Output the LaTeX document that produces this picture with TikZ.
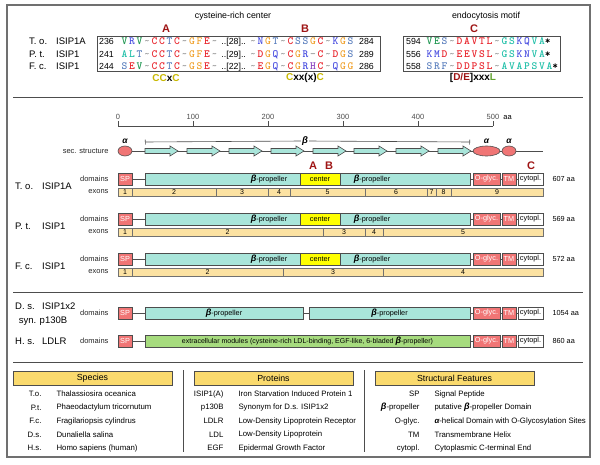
\documentclass[tikz,border=0pt]{standalone}
\usepackage{fontspec}
\setmainfont{Liberation Sans}
\usepackage{tikz}
\usetikzlibrary{arrows.meta,positioning,shapes.geometric,backgrounds}
\definecolor{cline}{HTML}{4D4D4D}
\definecolor{cframe}{HTML}{707070}
\definecolor{cred}{HTML}{F07575}
\definecolor{cprop}{HTML}{A9E5DA}
\definecolor{cctr}{HTML}{FFFF00}
\definecolor{cexon}{HTML}{FCE2A2}
\definecolor{cldl}{HTML}{A6DB7E}
\definecolor{chead}{HTML}{FADA6E}
\definecolor{cmark}{HTML}{9E1414}
\definecolor{cmotif}{HTML}{C8B800}
% residue colours
\definecolor{rred}{HTML}{E8242C}
\definecolor{rblue}{HTML}{4A4FE0}
\definecolor{rsteel}{HTML}{5C80BE}
\definecolor{rorange}{HTML}{F0A22E}
\definecolor{rgreen}{HTML}{1E9650}
\definecolor{rteal}{HTML}{1FBFA8}
\definecolor{rpurple}{HTML}{8A3FC0}
\definecolor{rgap}{HTML}{9A9A9A}
\newcommand\fsmall{\fontsize{7.5}{9}\selectfont}
\newcommand\fdom{\fontsize{7.3}{8}\selectfont}
\newcommand\fex{\fontsize{7}{8}\selectfont}
\newcommand\fspec{\fontsize{9.5}{11}\selectfont}
\newcommand\ftitle{\fontsize{8.8}{10}\selectfont}
\newcommand\fleg{\fontsize{7.8}{9}\selectfont}
\newcommand\fhdr{\fontsize{8.8}{10}\selectfont}
\newcommand\fsite{\fontsize{11}{12}\selectfont\bfseries}
\newcommand\fmotif{\fontsize{10}{12}\selectfont\bfseries}
\newcommand\fgreek{\fontsize{8.5}{9}\selectfont\bfseries\itshape}
\newcommand\fseq{\fontsize{11}{12}\selectfont\ttfamily\bfseries}
\newcommand\fnum{\fontsize{8.8}{10}\selectfont}
\newcommand\bprop{{\fontsize{9}{9}\selectfont\bfseries\itshape β}-propeller}
\newcommand\alp{{\bfseries\itshape α}}
% one box per residue
\makeatletter
\newcommand\sq[2]{\def\sq@col{#1}\sq@loop#2\@nil}
\def\sq@loop#1{\ifx\@nil#1\else\makebox[7.5pt]{\textcolor{\sq@col}{#1}}\expandafter\sq@loop\fi}
\makeatother
\newcommand\gp{\sq{rgap}{\textasciitilde}}
\newcommand\brk[1]{\makebox[31pt]{\normalfont\fontsize{8.8}{9}\selectfont ..[#1]..}}
\newcommand\str{\makebox[4pt]{*}}
\tikzset{
  dom/.style={draw=cline, line width=0.7pt, minimum height=12pt, inner sep=0pt, font=\fdom},
  spd/.style={dom, fill=cred, text=white},
  prop/.style={dom, fill=cprop},
  ctr/.style={dom, fill=cctr},
  cyt/.style={dom, fill=white},
  ldl/.style={dom, fill=cldl},
  exon/.style={draw=cline!80, line width=0.6pt, fill=cexon, minimum height=8pt, inner sep=0pt, font=\fex},
  link/.style={draw=cline, line width=0.9pt},
  rowlbl/.style={font=\fsmall, anchor=east, text=black!85},
  spec/.style={font=\fspec, anchor=base west, inner sep=0pt},
  helix/.style={ellipse, draw=cline, line width=0.6pt, fill=cred, inner sep=0pt, minimum height=10pt},
  strand/.style={draw=cline, line width=0.6pt, fill=cprop},
  greek/.style={font=\fgreek, inner sep=1pt},
  site/.style={font=\fsite, text=cmark},
  motif/.style={font=\fmotif},
  aln/.style={draw=cline, line width=0.9pt, inner sep=0pt},
  num/.style={font=\fnum, anchor=base west, inner sep=0pt},
  seq/.style={font=\fseq, anchor=base west, inner sep=0pt},
  hdr/.style={draw=cline, line width=0.7pt, fill=chead, minimum width=159pt, minimum height=14pt, inner sep=0pt, font=\fhdr},
  legab/.style={font=\fleg, anchor=east},
  legtx/.style={font=\fleg, anchor=west},
  rule/.style={draw=cline, line width=1pt},
}
\begin{document}
\begin{tikzpicture}[x=1pt, y=-1pt]
\useasboundingbox (0,0) rectangle (600,464);
\draw[cframe, line width=1.4pt] (7,5) rectangle (590,457);
% alignments
\node[font=\ftitle] (ttl1) at (233,16) {cysteine-rich center};
\node[font=\ftitle] (ttl2) at (486,16) {endocytosis motif};
\node[aln, minimum width=283pt, minimum height=35pt] (aln1) at (238.5,53.5) {};
\node[aln, minimum width=157pt, minimum height=35pt] (aln2) at (481.5,53.5) {};
\node[site] (sA) at (166,29) {A};
\node[site] (sB) at (305,29) {B};
\node[site] (sC) at (474,29) {C};
\node[spec] (ta1) at (29,44.5) {T. o.};
\node[spec] (tb1) at (56,44.5) {ISIP1A};
\node[spec] (ta2) at (29,57) {P. t.};
\node[spec] (tb2) at (56,57) {ISIP1};
\node[spec] (ta3) at (29,69.5) {F. c.};
\node[spec] (tb3) at (56,69.5) {ISIP1};
\node[num] (n1a) at (99,44.5) {236};
\node[seq] (q1a) at (120.5,44.5) {\sq{rgreen}{V}\sq{rblue}{R}\sq{rgreen}{V}\gp\sq{rred}{CC}\sq{rsteel}{T}\sq{rred}{C}\gp\sq{rorange}{GF}\sq{rred}{E}\gp\brk{28}\gp\sq{rblue}{N}\sq{rorange}{G}\sq{rsteel}{T}\gp\sq{rred}{C}\sq{rsteel}{SS}\sq{rorange}{G}\sq{rred}{C}\gp\sq{rblue}{K}\sq{rorange}{G}\sq{rsteel}{S}};
\node[num] (n1b) at (359,44.5) {284};
\node[num] (n2a) at (99,57) {241};
\node[seq] (q2a) at (120.5,57) {\sq{rteal}{AL}\sq{rsteel}{T}\gp\sq{rred}{CC}\sq{rsteel}{T}\sq{rred}{C}\gp\sq{rorange}{GF}\sq{rred}{E}\gp\brk{29}\gp\sq{rred}{D}\sq{rorange}{G}\sq{rblue}{Q}\gp\sq{rred}{C}\sq{rorange}{G}\sq{rblue}{R}\sq{rgap}{-}\sq{rred}{C}\gp\sq{rred}{D}\sq{rorange}{G}\sq{rsteel}{S}};
\node[num] (n2b) at (359,57) {289};
\node[num] (n3a) at (99,69.5) {244};
\node[seq] (q3a) at (120.5,69.5) {\sq{rsteel}{S}\sq{rred}{E}\sq{rgreen}{V}\gp\sq{rred}{CC}\sq{rsteel}{T}\sq{rred}{C}\gp\sq{rorange}{GS}\sq{rred}{E}\gp\brk{22}\gp\sq{rred}{E}\sq{rorange}{G}\sq{rblue}{Q}\gp\sq{rred}{C}\sq{rorange}{G}\sq{rblue}{R}\sq{rpurple}{H}\sq{rred}{C}\gp\sq{rblue}{Q}\sq{rorange}{GG}};
\node[num] (n3b) at (359,69.5) {286};
\node[num] (e1a) at (406,44.5) {594};
\node[seq] (p1a) at (425.5,44.5) {\sq{rgreen}{VE}\sq{rsteel}{S}\gp\sq{rred}{DAVTL}\gp\sq{rteal}{GS}\sq{rblue}{KQ}\sq{rteal}{VA}\str};
\node[num] (e2a) at (406,57) {556};
\node[seq] (p2a) at (425.5,57) {\sq{rblue}{KM}\sq{rred}{D}\gp\sq{rred}{EEVSL}\gp\sq{rteal}{GS}\sq{rblue}{KN}\sq{rteal}{VA}\str};
\node[num] (e3a) at (406,69.5) {558};
\node[seq] (p3a) at (425.5,69.5) {\sq{rsteel}{SRF}\gp\sq{rred}{DDPSL}\gp\sq{rteal}{AVAPSVA}\str};
\node[motif] (m1) at (166,78) {\textcolor{cmotif}{CC}x\textcolor{cmotif}{C}};
\node[motif] (m2) at (305,78) {\textcolor{cmotif}{C}xx(x)\textcolor{cmotif}{C}};
\node[motif] (m3) at (473,78) {[\textcolor{cmark}{D/E}]xxx\textcolor{rgreen!60!cmotif}{L}};
\draw[rule] (13,97) -- (583,97);
% scale and secondary structure
\coordinate (r0) at (118,126);
\coordinate (r5) at (493,126);
\draw[cline, line width=0.8pt] (r0) -- (r5);
\foreach \v in {0,100,...,500}
  \draw[cline, line width=0.8pt] ({118+0.75*\v},126) -- ++(0,-5) node[above, font=\fsmall, inner sep=1.5pt] (t\v) {\v};
\node[font=\fsmall, anchor=base west, inner sep=0pt] (aa) at ([xshift=2pt]t500.base east) {aa};
\node[rowlbl] (lsec) at (112,151) {sec. structure};
\node[helix, minimum width=14pt] (h1) at (125,151) {};
\node[helix, minimum width=27pt] (h2) at (486.5,151) {};
\node[helix, minimum width=14pt] (h3) at (509,151) {};
\coordinate (send) at (543,151);
\foreach \x in {145,187,229,271,313,354,396,438}
  \filldraw[strand] (\x,148.5) -- ++(25,0) -- ++(0,-2.5) -- ++(8,5) -- ++(-8,5) -- ++(0,-2.5) -- (\x,153.5) -- cycle;
\begin{scope}[on background layer]
\draw[link, line width=0.7pt] (h1.east) -- (send);
\end{scope}
\node[greek] (ga1) at (125,141) {α};
\node[greek] (ga2) at (486.5,141) {α};
\node[greek] (ga3) at (509,141) {α};
\node[greek, font=\fontsize{9.5}{10}\selectfont\bfseries\itshape] (gb) at (305,141) {β};
\coordinate (bl) at (145,142);
\coordinate (br) at (470,142);
\draw[cline, line width=0.6pt, {Bar[width=5pt]}-] (bl) -- (gb.west);
\draw[cline, line width=0.6pt, -{Bar[width=5pt]}] (gb.east) -- (br);
\node[site] (sA2) at (313,166) {A};
\node[site] (sB2) at (329,166) {B};
\node[site] (sC2) at (531,166) {C};
% common domain ends
\foreach \y/\n/\len in {179/to/607, 219/pt/569, 259/fc/572, 313/ds/1054, 341/hs/860}{
  \node[rowlbl] (ld-\n) at (112,\y) {domains};
  \node[spd, minimum width=14pt] (sp-\n) at (125,\y) {SP};
  \node[spd, minimum width=27pt] (og-\n) at (486.5,\y) {O-glyc.};
  \node[spd, minimum width=14pt] (tm-\n) at (509,\y) {TM};
  \node[cyt, minimum width=25pt] (cy-\n) at (530.5,\y) {cytopl.};
  \node[font=\fdom, anchor=west] (len-\n) at (549,\y) {\len~aa};
  \draw[link] (og-\n) -- (tm-\n) -- (cy-\n);
}
% T. o.
\node[spec] (to-a) at (15,189) {T. o.};
\node[spec] (to-b) at (42,189) {ISIP1A};
\node[prop, minimum width=325pt] (pr-to) at (307.5,179) {};
\node[ctr, minimum width=40pt] (ct-to) at (320,179) {center};
\node[font=\fdom] (pl-to) at (269,179) {\bprop};
\node[font=\fdom] (pr2-to) at (372,179) {\bprop};
\draw[link] (sp-to) -- (pr-to);
\draw[link] (pr-to) -- (og-to);
\node[rowlbl] (le-to) at (112,192) {exons};
\foreach \a/\b/\t in {118/132/1,132/216/2,216/268/3,268/290/4,290/365/5,365/427/6,427/436/7,436/451/8,451/543/9}
  \node[exon, minimum width={(\b-\a)*1pt}] (ex-to\t) at ({(\a+\b)/2},192) {\t};
% P. t.
\node[spec] (pt-a) at (15,229) {P. t.};
\node[spec] (pt-b) at (42,229) {ISIP1};
\node[prop, minimum width=325pt] (pr-pt) at (307.5,219) {};
\node[ctr, minimum width=40pt] (ct-pt) at (320,219) {center};
\node[font=\fdom] (pl-pt) at (269,219) {\bprop};
\node[font=\fdom] (pr2-pt) at (372,219) {\bprop};
\draw[link] (sp-pt) -- (pr-pt);
\draw[link] (pr-pt) -- (og-pt);
\node[rowlbl] (le-pt) at (112,232) {exons};
\foreach \a/\b/\t in {118/132/1,132/323/2,323/365/3,365/383/4,383/543/5}
  \node[exon, minimum width={(\b-\a)*1pt}] (ex-pt\t) at ({(\a+\b)/2},232) {\t};
% F. c.
\node[spec] (fc-a) at (15,269) {F. c.};
\node[spec] (fc-b) at (42,269) {ISIP1};
\node[prop, minimum width=325pt] (pr-fc) at (307.5,259) {};
\node[ctr, minimum width=40pt] (ct-fc) at (320,259) {center};
\node[font=\fdom] (pl-fc) at (269,259) {\bprop};
\node[font=\fdom] (pr2-fc) at (372,259) {\bprop};
\draw[link] (sp-fc) -- (pr-fc);
\draw[link] (pr-fc) -- (og-fc);
\node[rowlbl] (le-fc) at (112,272) {exons};
\foreach \a/\b/\t in {118/132/1,132/283/2,283/383/3,383/543/4}
  \node[exon, minimum width={(\b-\a)*1pt}] (ex-fc\t) at ({(\a+\b)/2},272) {\t};
\draw[rule] (13,292) -- (583,292);
% D. s. and H. s.
\node[spec] (ds-a) at (15,309.5) {D. s.};
\node[spec] (ds-b) at (42,309.5) {ISIP1x2};
\node[font=\fspec, anchor=base, inner sep=0pt] (ds-c) at (43,323.5) {syn. p130B};
\node[prop, minimum width=158pt] (pa-ds) at (224,313) {\bprop};
\node[prop, minimum width=161pt] (pb-ds) at (389.5,313) {\bprop};
\draw[link] (sp-ds) -- (pa-ds);
\draw[link] (pa-ds) -- (pb-ds);
\draw[link] (pb-ds) -- (og-ds);
\node[spec] (hs-a) at (15,344.5) {H. s.};
\node[spec] (hs-b) at (42,344.5) {LDLR};
\node[ldl, minimum width=325pt, font=\fontsize{7}{8}\selectfont] (ld-hs) at (307.5,341) {extracellular modules (cysteine-rich LDL-binding, EGF-like, 6-bladed \bprop)};
\draw[link] (sp-hs) -- (ld-hs);
\draw[link] (ld-hs) -- (og-hs);
\draw[rule] (13,362) -- (583,362);
% legend
\node[hdr] (hd1) at (92.5,378) {Species};
\node[hdr] (hd2) at (273.5,378) {Proteins};
\node[hdr] (hd3) at (454.5,378) {Structural Features};
\draw[cline, line width=1pt] (183,370) -- (183,452);
\draw[cline, line width=1pt] (364,370) -- (364,452);
\foreach \ab/\tx [count=\i] in {T.o./Thalassiosira oceanica, P.t./Phaeodactylum tricornutum, F.c./Fragilariopsis cylindrus, D.s./Dunaliella salina, H.s./Homo sapiens (human)}{
  \node[legab] (sa\i) at (45,{380.5+13.5*\i}) {\ab};
  \node[legtx] (st\i) at (53,{380.5+13.5*\i}) {\tx};
}
\foreach \ab/\tx [count=\i] in {ISIP1(A)/Iron Starvation Induced Protein 1, p130B/Synonym for D.s. ISIP1x2, LDLR/Low-Density Lipoprotein Receptor, LDL/Low-Density Lipoprotein, EGF/Epidermal Growth Factor}{
  \node[legab] (pa\i) at (227,{380.5+13.5*\i}) {\ab};
  \node[legtx] (pt\i) at (235,{380.5+13.5*\i}) {\tx};
}
\foreach \ab/\tx [count=\i] in {SP/Signal Peptide, \bprop/putative \bprop{} Domain, O-glyc./\alp-helical Domain with O-Glycosylation Sites, TM/Transmembrane Helix, cytopl./Cytoplasmic C-terminal End}{
  \node[legab] (fa\i) at (423,{380.5+13.5*\i}) {\ab};
  \node[legtx] (ft\i) at (431,{380.5+13.5*\i}) {\tx};
}
\end{tikzpicture}
\end{document}
